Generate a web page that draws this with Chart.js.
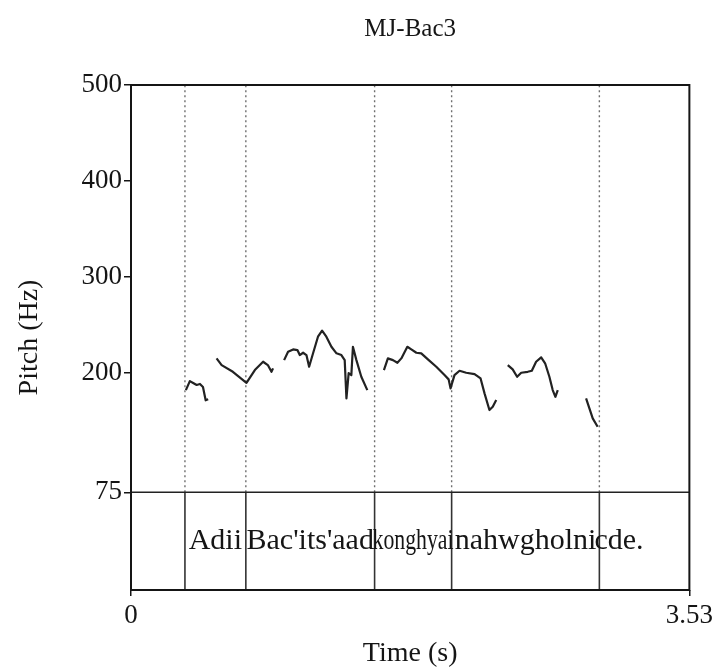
<!DOCTYPE html>
<html>
<head>
<meta charset="utf-8">
<script src="https://cdn.jsdelivr.net/npm/chart.js@4.4.1/dist/chart.umd.min.js"></script>
<style>
  html, body { margin: 0; padding: 0; background: #fff; }
  #wrap { width: 717px; height: 670px; }
</style>
</head>
<body>
<div id="wrap"><canvas id="pitch" width="717" height="670"></canvas></div>
<script>
// pitch track + text tier (Praat style)
const chartTitle = 'MJ-Bac3';
const timeMax = 3.53;
const xTickValues = [0, 3.53];
const yTickValues = [75, 200, 300, 400, 500];
const pitchFloor = 75;
const pitchCeiling = 500;
const tierBottom = -27;   // tier box sits below the 75 Hz floor

const boundaries = [0.341, 0.726, 1.540, 2.027, 2.961];
const tierLabels = ['Adii', "Bac'its'aad", 'konghyai', 'nahwgholni', 'cde.'];
const tierLabelTimes = [0.533, 1.133, 1.783, 2.494, 3.085];

// null = unvoiced gap
const pitchTimes = [
  0.347, 0.372, 0.393, 0.415, 0.436, 0.455, 0.472, 0.488, null,
  0.541, 0.573, 0.644, 0.730, 0.783, 0.835, 0.865, 0.888, 0.898, null,
  0.968, 0.993, 1.025, 1.052, 1.067, 1.088, 1.109, 1.126, 1.151, 1.182, 1.208, 1.235,
  1.267, 1.299, 1.330, 1.351, 1.362, 1.376, 1.393, 1.403, 1.425, 1.456, 1.494, null,
  1.599, 1.624, 1.656, 1.684, 1.709, 1.747, 1.772, 1.804, 1.835, 1.877, 1.930, 1.982,
  2.008, 2.020, 2.045, 2.077, 2.119, 2.172, 2.210, 2.235, 2.266, 2.287, 2.309, null,
  2.382, 2.413, 2.441, 2.467, 2.508, 2.534, 2.561, 2.593, 2.618, 2.645, 2.666, 2.683, 2.698, null,
  2.877, 2.898, 2.919, 2.950
];
const pitchHz = [
  181.6, 191, 189, 187, 188, 184.8, 171, 172, null,
  214.7, 207.7, 200.7, 189.2, 202.5, 211.2, 207.7, 200.7, 204.3, null,
  212.9, 221.6, 224.1, 223.4, 218.2, 220.6, 218.2, 206, 220, 237.3, 243.6, 237.3,
  226.8, 220, 218.2, 212.9, 173, 199.4, 197.3, 226.8, 212.9, 195.5, 181.6, null,
  202.5, 214.7, 212.9, 210.1, 214.7, 226.8, 224.1, 220.6, 220, 213.7, 206, 197.3,
  192.8, 183.4, 197.3, 201.8, 199.7, 198.3, 193.8, 178.2, 160.8, 164.2, 171.2, null,
  207.7, 203.2, 195.5, 199.7, 200.7, 201.8, 211.2, 215.8, 209.6, 195.5, 181.6, 174.6, 181.6, null,
  173, 162.5, 152.1, 143.3
];

const FONT = '"Liberation Serif", "Times New Roman", serif';
const INK = '#151515';

function pitchPoints(){
  let last = 0;
  return pitchTimes.map((t, i) => {
    if (t === null || pitchHz[i] === null) return { x: last, y: null };
    last = t;
    return { x: t, y: pitchHz[i] };
  });
}

function boundaryPoints(y0, y1){
  const pts = [];
  boundaries.forEach(b => {
    pts.push({ x: b, y: y0 }, { x: b, y: y1 }, { x: b, y: null });
  });
  return pts;
}

const framePlugin = {
  id: 'frame',
  afterDatasetsDraw(chart){
    const { ctx, chartArea: a, scales } = chart;
    ctx.save();
    // outer box
    ctx.strokeStyle = INK;
    ctx.lineWidth = 2;
    ctx.strokeRect(a.left, a.top, a.right - a.left, a.bottom - a.top);
    // tier labels
    ctx.fillStyle = INK;
    ctx.font = '30px ' + FONT;
    ctx.textAlign = 'center';
    ctx.textBaseline = 'middle';
    const yMid = scales.y.getPixelForValue((pitchFloor + tierBottom) / 2);
    const edges = [0].concat(boundaries, [timeMax]);
    tierLabels.forEach((txt, i) => {
      const t = tierLabelTimes[i];
      let lo = 0, hi = timeMax;
      for (let k = 0; k < edges.length - 1; k++) {
        if (t >= edges[k] && t <= edges[k + 1]) { lo = edges[k]; hi = edges[k + 1]; }
      }
      const room = scales.x.getPixelForValue(hi) - scales.x.getPixelForValue(lo) + 4;
      const x = scales.x.getPixelForValue(t);
      if (ctx.measureText(txt).width > room) ctx.fillText(txt, x, yMid, room);
      else ctx.fillText(txt, x, yMid);
    });
    // title
    ctx.font = '25px ' + FONT;
    ctx.fillText(chartTitle, (a.left + a.right) / 2, 29);
    ctx.restore();
  }
};

new Chart(document.getElementById('pitch').getContext('2d'), {
  type: 'line',
  data: {
    datasets: [
      {
        label: 'pitch',
        data: pitchPoints(),
        borderColor: '#222',
        borderWidth: 2.2,
        pointRadius: 0,
        spanGaps: false,
        tension: 0,
        borderJoinStyle: 'round',
        order: 0
      },
      {
        label: 'boundaries (pitch)',
        data: boundaryPoints(pitchFloor, pitchCeiling),
        borderColor: '#6f6f6f',
        borderWidth: 1.4,
        borderDash: [2, 3],
        pointRadius: 0,
        spanGaps: false,
        order: 2
      },
      {
        label: 'boundaries (tier)',
        data: boundaryPoints(tierBottom, pitchFloor),
        borderColor: '#333',
        borderWidth: 1.6,
        pointRadius: 0,
        spanGaps: false,
        order: 2
      },
      {
        label: 'floor',
        data: [{ x: 0, y: pitchFloor }, { x: timeMax, y: pitchFloor }],
        borderColor: '#222',
        borderWidth: 1.6,
        pointRadius: 0,
        order: 1
      }
    ]
  },
  options: {
    responsive: false,
    animation: false,
    devicePixelRatio: 1,
    layout: { padding: { top: 85, right: 27, bottom: 0, left: 0 } },
    plugins: { legend: { display: false }, tooltip: { enabled: false }, title: { display: false } },
    scales: {
      x: {
        type: 'linear',
        min: 0,
        max: timeMax,
        afterBuildTicks: s => { s.ticks = xTickValues.map(v => ({ value: v })); },
        afterFit: s => { s.height = 80; },
        ticks: {
          autoSkip: false, maxRotation: 0, padding: 4, color: INK,
          font: { family: FONT, size: 27 },
          callback: v => String(v)
        },
        grid: { drawOnChartArea: false, drawTicks: true, tickLength: 6, color: INK, lineWidth: 1.5 },
        border: { display: false },
        title: { display: true, text: 'Time (s)', color: INK, font: { family: FONT, size: 28 }, padding: 0 }
      },
      y: {
        type: 'linear',
        min: tierBottom,
        max: pitchCeiling,
        afterBuildTicks: s => { s.ticks = yTickValues.map(v => ({ value: v })); },
        afterFit: s => { s.width = 131; },
        ticks: {
          autoSkip: false, padding: 2, color: INK,
          font: { family: FONT, size: 27 },
          callback: v => String(v)
        },
        grid: { drawOnChartArea: false, drawTicks: true, tickLength: 7, color: INK, lineWidth: 1.5 },
        border: { display: false },
        title: { display: true, text: 'Pitch (Hz)', color: INK, font: { family: FONT, size: 28 }, padding: { top: 13, bottom: 0 } }
      }
    }
  },
  plugins: [framePlugin]
});
</script>
</body>
</html>
